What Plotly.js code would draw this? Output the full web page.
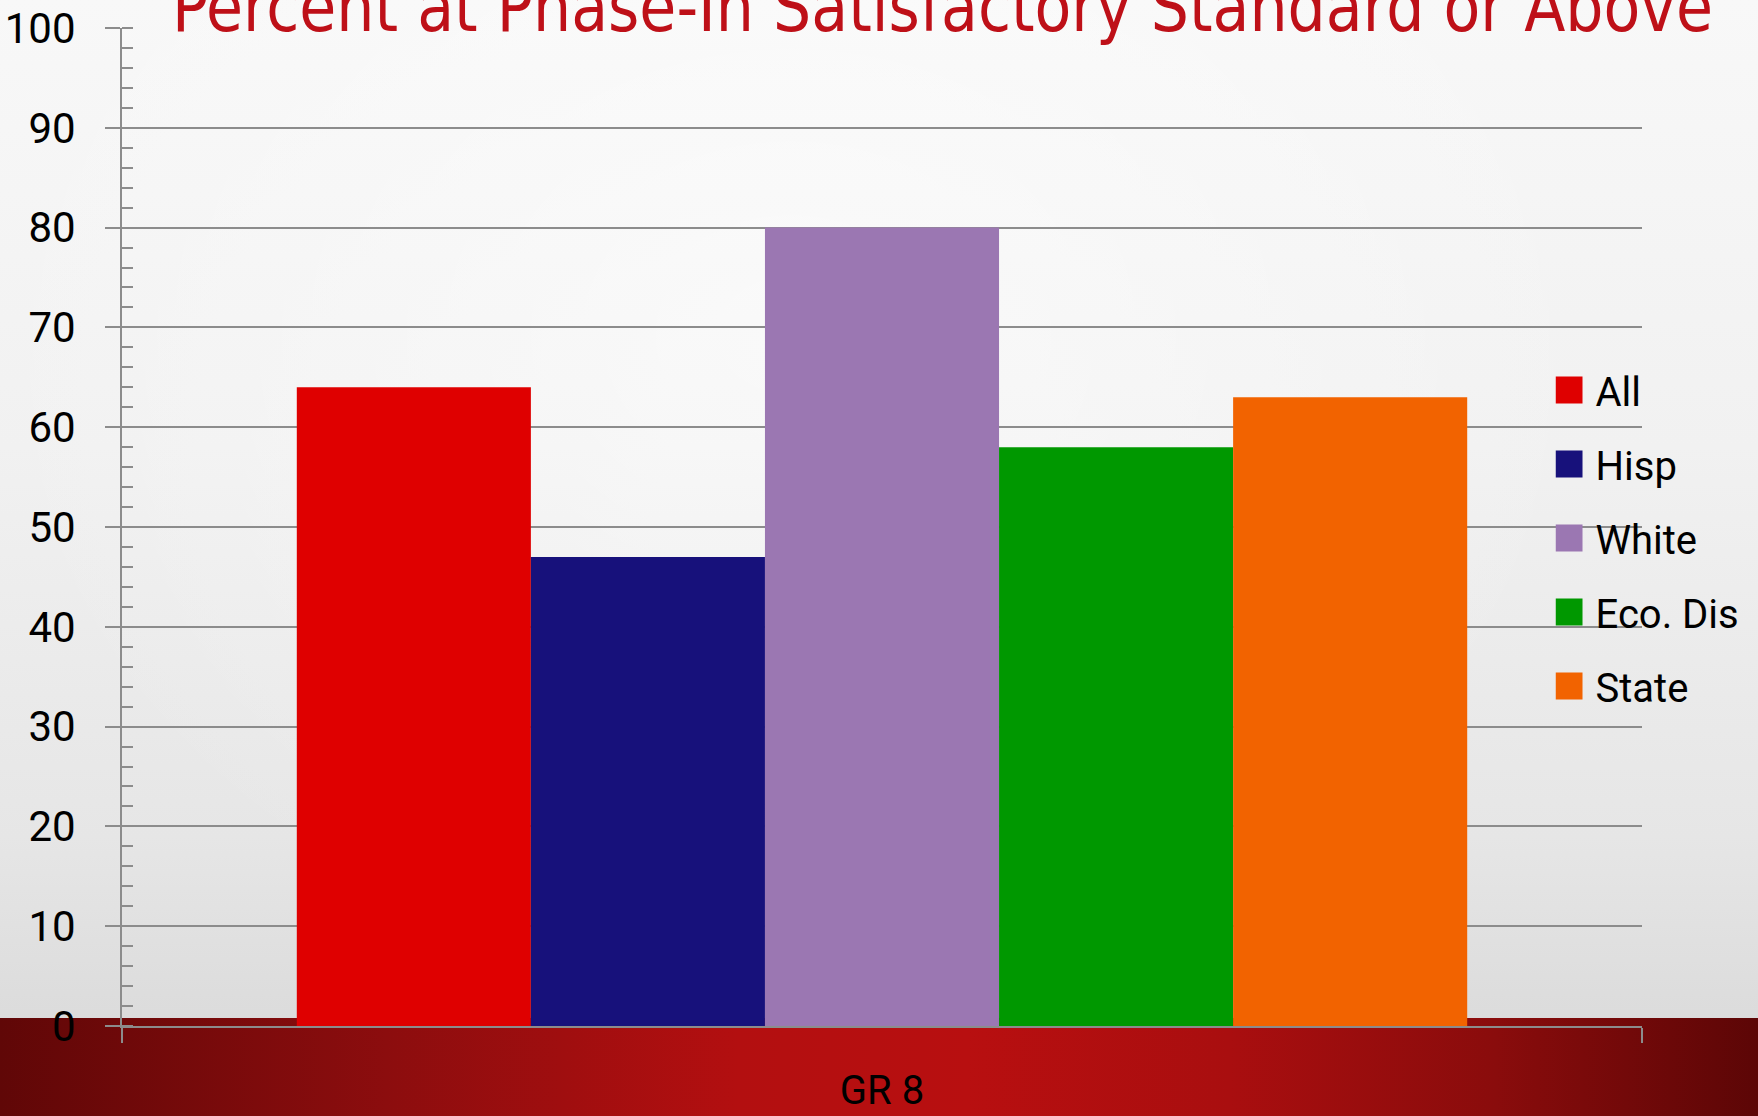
<!DOCTYPE html>
<html>
<head>
<meta charset="utf-8">
<script src="https://cdn.plot.ly/plotly-3.0.1.min.js"></script>
<style>
  html, body { margin: 0; padding: 0; width: 1758px; height: 1116px; overflow: hidden; }
  body {
    position: relative;
    background:
      radial-gradient(ellipse at 45% 30%, rgba(255,255,255,0.55) 0%, rgba(255,255,255,0) 60%),
      linear-gradient(to bottom, #f8f8f8 0%, #f1f1f1 40%, #e6e6e6 75%, #d6d6d6 100%);
  }
  #band {
    position: absolute; left: 0; top: 1018px; width: 1758px; height: 98px;
    background: linear-gradient(to right, #600707 0%, #8c0d0e 22%, #b30f10 42%, #b80f10 55%, #a90e0f 70%, #8a0c0c 85%, #5c0606 100%);
    z-index: 0;
  }
  #chart { position: absolute; left: 0; top: 0; width: 1758px; height: 1116px; z-index: 1; }
</style>
</head>
<body>
<div id="band"></div>
<div id="chart"></div>
<script>
// ---- data ----
const categories = ['GR 8'];
const seriesNames = ['All', 'Hisp', 'White', 'Eco. Dis', 'State'];
const seriesValues = [64, 47, 80, 58, 63];
const yTickValues = [0, 10, 20, 30, 40, 50, 60, 70, 80, 90, 100];
const titleText = 'Percent at Phase-In Satisfactory Standard or Above';

// ---- styles ----
const seriesColors = ['#df0000', '#17117b', '#9b77b2', '#009800', '#f26300'];
const gridGray = '#8c8c8c';
const textFont = 'Roboto, "Open Sans", sans-serif';

const traces = seriesNames.map((name, i) => ({
  type: 'bar',
  name: name,
  x: categories,
  y: [seriesValues[i]],
  marker: { color: seriesColors[i], line: { width: 0 } },
  legendgroup: 'g' + i,
  hoverinfo: 'skip'
}));

const layout = {
  width: 1758,
  height: 1116,
  paper_bgcolor: 'rgba(0,0,0,0)',
  plot_bgcolor: 'rgba(0,0,0,0)',
  margin: { l: 122, r: 116, t: 28, b: 90, pad: 0 },
  barmode: 'group',
  bargap: 0.23,
  bargroupgap: 0,
  title: {
    text: titleText,
    font: { family: '"DejaVu Sans Condensed", "DejaVu Sans", sans-serif', size: 70, color: '#be1018' },
    xref: 'container', yref: 'container', x: 0.5, y: 1, xanchor: 'center', yanchor: 'middle'
  },
  xaxis: {
    type: 'category',
    showgrid: false,
    showline: true, linecolor: gridGray, linewidth: 2,
    ticks: 'outside', ticklen: 15, tickwidth: 2, tickcolor: gridGray,
    tickson: 'boundaries',
    tickfont: { family: textFont, size: 40, color: '#000' },
    ticklabelstandoff: 28,
    zeroline: false,
    fixedrange: true
  },
  yaxis: {
    range: [0, 100],
    tickmode: 'array',
    tickvals: yTickValues,
    ticktext: yTickValues.map(String),
    showgrid: true, gridcolor: gridGray, gridwidth: 2,
    showline: true, linecolor: gridGray, linewidth: 2,
    ticks: 'outside', ticklen: 15, tickwidth: 2, tickcolor: gridGray,
    minor: { dtick: 2, ticks: 'inside', ticklen: 11, tickwidth: 2, tickcolor: gridGray, showgrid: false },
    tickfont: { family: textFont, size: 42, color: '#000' },
    ticklabelstandoff: 21,
    zeroline: false,
    fixedrange: true
  },
  showlegend: true,
  legend: {
    x: 0.9431, xref: 'paper', xanchor: 'left',
    y: 0.489, yref: 'paper', yanchor: 'middle',
    bgcolor: 'rgba(0,0,0,0)', borderwidth: 0,
    font: { family: textFont, size: 40, color: '#000' },
    tracegroupgap: 19,
    traceorder: 'grouped',
    itemclick: false, itemdoubleclick: false
  }
};

Plotly.newPlot('chart', traces, layout, { displayModeBar: false, staticPlot: true }).then(function (gd) {
  // enlarge legend squares to match the reference
  gd.querySelectorAll('.legend .legendpoints path').forEach(function (p) {
    const t = p.getAttribute('transform') || '';
    p.setAttribute('transform', t + ' translate(-6.5,0) scale(2.25)');
    p.style.strokeWidth = '0';
  });
  // fit the title to its reference width/baseline
  const tt = gd.querySelector('.gtitle');
  if (tt) {
    tt.removeAttribute('dy');
    tt.querySelectorAll('tspan').forEach(function (s) { s.removeAttribute('dy'); });
    tt.setAttribute('x', 172);
    tt.setAttribute('y', 31);
    tt.setAttribute('text-anchor', 'start');
    tt.style.textAnchor = 'start';
    tt.setAttribute('textLength', 1541);
    tt.setAttribute('lengthAdjust', 'spacingAndGlyphs');
  }
});
</script>
</body>
</html>
